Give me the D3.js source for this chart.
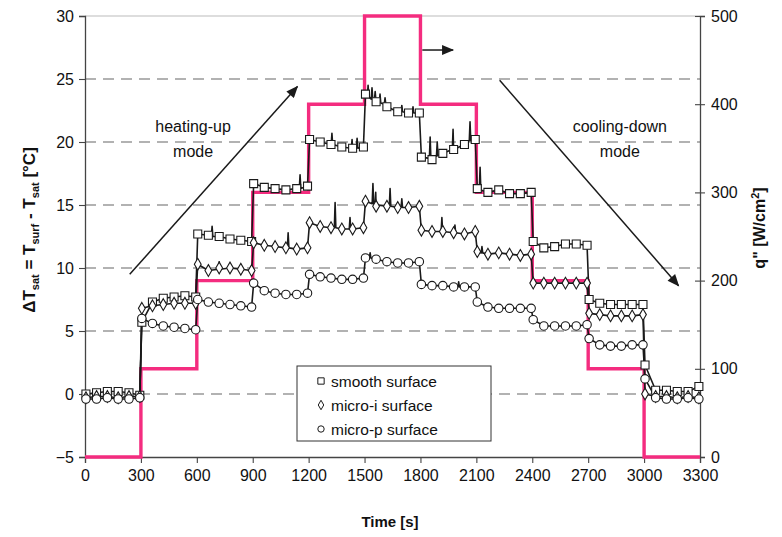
<!DOCTYPE html>
<html>
<head>
<meta charset="utf-8">
<script src="https://cdn.jsdelivr.net/npm/d3@7"></script>
<style>
  html, body { margin: 0; padding: 0; background: #fff; }
  svg { display: block; font-family: "Liberation Sans", Arial, sans-serif; }
</style>
</head>
<body>
<svg id="chart" width="782" height="537"></svg>
<script>
// ---- data -------------------------------------------------------------
// heat-flux step programme: one level per 300 s segment
const segStarts = [0, 300, 600, 900, 1200, 1500, 1800, 2100, 2400, 2700, 3000];
const segEnd = 3300;
const heatFlux = [0, 100, 200, 300, 400, 500, 400, 300, 200, 100, 0]; // W/cm²

// sampling instants inside each segment (s after segment start)
const sampleOffsets = [5, 62, 120, 178, 236, 294];

// wall superheat readings per segment (°C)
const smoothVals = [
  [0.0, 0.1, 0.2, 0.2, 0.1, -0.1],
  [5.7, 7.3, 7.6, 7.7, 7.8, 7.7],
  [12.7, 12.6, 12.5, 12.3, 12.2, 12.1],
  [16.7, 16.4, 16.3, 16.2, 16.3, 16.5],
  [20.2, 20.0, 19.8, 19.6, 19.5, 19.6],
  [23.8, 23.2, 22.8, 22.4, 22.3, 22.3],
  [18.8, 18.6, 19.1, 19.4, 19.8, 20.2],
  [16.3, 16.0, 16.2, 15.9, 15.9, 16.0],
  [12.1, 11.6, 11.7, 11.9, 11.9, 11.8],
  [7.5, 7.2, 7.1, 7.1, 7.1, 7.1],
  [2.3, 0.3, 0.3, 0.2, 0.2, 0.6]
];
const microIVals = [
  [-0.3, -0.2, -0.2, -0.3, -0.2, -0.2],
  [6.8, 7.0, 7.1, 7.2, 7.2, 7.2],
  [10.3, 9.8, 10.0, 10.0, 9.9, 9.8],
  [12.0, 11.8, 11.7, 11.6, 11.5, 11.6],
  [13.6, 13.3, 13.2, 13.1, 13.1, 13.2],
  [15.3, 14.9, 14.9, 14.8, 14.8, 14.9],
  [13.0, 12.9, 12.9, 12.8, 12.7, 12.9],
  [11.3, 11.1, 11.2, 11.1, 11.0, 11.1],
  [8.8, 8.8, 8.8, 8.8, 8.8, 8.8],
  [6.4, 6.3, 6.2, 6.2, 6.2, 6.3],
  [0.0, -0.2, -0.2, -0.3, -0.2, -0.3]
];
const microPVals = [
  [-0.4, -0.4, -0.3, -0.4, -0.4, -0.3],
  [6.0, 5.6, 5.4, 5.3, 5.2, 5.1],
  [7.5, 7.3, 7.2, 7.1, 7.0, 6.9],
  [8.8, 8.2, 8.0, 7.9, 7.9, 8.0],
  [9.5, 9.3, 9.2, 9.1, 9.1, 9.2],
  [10.8, 10.7, 10.5, 10.4, 10.4, 10.5],
  [8.7, 8.6, 8.6, 8.5, 8.5, 8.5],
  [7.3, 6.9, 6.8, 6.8, 6.8, 6.8],
  [5.9, 5.4, 5.4, 5.4, 5.4, 5.5],
  [4.4, 3.9, 3.8, 3.8, 3.9, 3.9],
  [1.2, -0.3, -0.4, -0.4, -0.3, -0.4]
];

// short boiling spikes in the traces: [time s, base °C, peak °C]
const smoothSpikes = [
  [682, 12.5, 13.3], [1154, 16.3, 17.4],
  [1325, 19.8, 20.7], [1433, 19.5, 20.2], [1460, 19.5, 20.3],
  [1519, 23.6, 24.5], [1540, 23.4, 24.3], [1557, 23.3, 24.0], [1583, 23.1, 23.8],
  [1610, 23.0, 23.5], [1700, 22.4, 22.9], [1760, 22.3, 22.8],
  [1852, 18.7, 20.4], [1890, 18.9, 20.0], [1975, 19.4, 21.0], [2066, 20.1, 21.6],
  [2120, 16.2, 18.0]
];
const microISpikes = [
  [720, 9.9, 10.5], [1090, 11.6, 12.8],
  [1342, 13.2, 15.2], [1422, 13.1, 14.0],
  [1545, 15.1, 16.7], [1560, 15.0, 16.0], [1637, 14.9, 16.3], [1700, 14.8, 15.5],
  [1915, 12.9, 14.0], [1985, 12.8, 13.4], [2130, 11.2, 11.7]
];
const microPSpikes = [
  [1530, 10.8, 11.2], [2005, 8.5, 8.9]
];

const xTicks = [0, 300, 600, 900, 1200, 1500, 1800, 2100, 2400, 2700, 3000, 3300];
const yTicks = [-5, 0, 5, 10, 15, 20, 25, 30];
const qTicks = [0, 100, 200, 300, 400, 500];
const gridLevels = [0, 5, 10, 15, 20, 25];

const seriesNames = ["smooth surface", "micro-i surface", "micro-p surface"];

// ---- layout -------------------------------------------------------------
const svg = d3.select("#chart");
const plotL = 85, plotR = 700, plotT = 16, plotB = 457;

const x = d3.scaleLinear().domain([0, 3300]).range([plotL, plotR]);
const y = d3.scaleLinear().domain([-5, 30]).range([plotB, plotT]);
const q = d3.scaleLinear().domain([0, 500]).range([plotB, plotT]);

const pink = "#f42c7f";
const ink = "#1a1a1a";

// top frame line
svg.append("line")
  .attr("x1", plotL).attr("x2", plotR).attr("y1", plotT).attr("y2", plotT)
  .attr("stroke", "#bbb").attr("stroke-width", 1);

// dashed horizontal grid
svg.append("g").selectAll("line").data(gridLevels).join("line")
  .attr("x1", plotL).attr("x2", plotR)
  .attr("y1", d => y(d)).attr("y2", d => y(d))
  .attr("stroke", "#666").attr("stroke-width", 1.1)
  .attr("stroke-dasharray", "11,7");

// axes
const fontSize = 16;
const gLeft = svg.append("g").attr("transform", `translate(${plotL},0)`)
  .call(d3.axisLeft(y).tickValues(yTicks).tickSize(6).tickPadding(5).tickFormat(d3.format("d")));
const gBottom = svg.append("g").attr("transform", `translate(0,${plotB})`)
  .call(d3.axisBottom(x).tickValues(xTicks).tickSize(6).tickPadding(7).tickFormat(d3.format("d")));
const gRight = svg.append("g").attr("transform", `translate(${plotR},0)`)
  .call(d3.axisRight(q).tickValues(qTicks).tickSize(5).tickPadding(6).tickFormat(d3.format("d")));
gRight.selectAll(".tick line").attr("x1", -5);

[gLeft, gBottom, gRight].forEach(g => {
  g.select(".domain").attr("stroke", "#444").attr("stroke-width", 1.3);
  g.selectAll(".tick line").attr("stroke", "#444").attr("stroke-width", 1.1);
  g.selectAll(".tick text").attr("font-size", fontSize)
    .attr("font-family", "'Liberation Sans', Arial, sans-serif").attr("fill", "#111");
});

// axis titles
svg.append("text")
  .attr("transform", "translate(35,230) rotate(-90)")
  .attr("text-anchor", "middle").attr("font-weight", "bold").attr("font-size", 17).attr("fill", "#111")
  .call(t => {
    t.append("tspan").text("ΔT");
    t.append("tspan").attr("font-size", 11).attr("dy", 4).text("sat");
    t.append("tspan").attr("dy", -4).text(" = T");
    t.append("tspan").attr("font-size", 11).attr("dy", 4).text("surf");
    t.append("tspan").attr("dy", -4).text(" - T");
    t.append("tspan").attr("font-size", 11).attr("dy", 4).text("sat");
    t.append("tspan").attr("dy", -4).text(" [°C]");
  });

svg.append("text")
  .attr("transform", "translate(765,228) rotate(-90)")
  .attr("text-anchor", "middle").attr("font-weight", "bold").attr("font-size", 16).attr("fill", "#111")
  .call(t => {
    t.append("tspan").text("q\" [W/cm");
    t.append("tspan").attr("font-size", 11).attr("dy", -6).text("2");
    t.append("tspan").attr("dy", 6).text("]");
  });

svg.append("text")
  .attr("x", 390).attr("y", 527).attr("text-anchor", "middle")
  .attr("font-weight", "bold").attr("font-size", 15).attr("fill", "#111")
  .text("Time [s]");

// ---- heat-flux step line (right axis) ---------------------------------
const qSteps = segStarts.map((s, i) => [s, heatFlux[i]]);
qSteps.push([segEnd, heatFlux[heatFlux.length - 1]]);
svg.append("path")
  .datum(qSteps)
  .attr("fill", "none").attr("stroke", pink).attr("stroke-width", 3.4)
  .attr("d", d3.line().x(d => x(d[0])).y(d => q(d[1])).curve(d3.curveStepAfter));

// ---- surface temperature traces ---------------------------------------
function buildSeries(vals, spikes) {
  const marks = [];
  vals.forEach((seg, i) => seg.forEach((v, j) => marks.push([segStarts[i] + sampleOffsets[j], v])));
  const trace = marks.slice();
  spikes.forEach(([t, b, p]) => { trace.push([t - 4, b], [t, p], [t + 4, b]); });
  trace.sort((a, b) => a[0] - b[0]);
  return { marks, trace };
}

const series = [
  buildSeries(smoothVals, smoothSpikes),
  buildSeries(microIVals, microISpikes),
  buildSeries(microPVals, microPSpikes)
];

const line = d3.line().x(d => x(d[0])).y(d => y(d[1]));

series.forEach(s => {
  svg.append("path").datum(s.trace)
    .attr("fill", "none").attr("stroke", ink).attr("stroke-width", 1.6)
    .attr("stroke-linejoin", "round").attr("d", line);
});

const symSquare = d3.symbol().type(d3.symbolSquare).size(64);
const symDiamond = d3.symbol().type(d3.symbolDiamond).size(40);
const symCircle = d3.symbol().type(d3.symbolCircle).size(56);
const symbols = [symSquare, symDiamond, symCircle];

series.forEach((s, k) => {
  svg.append("g").selectAll("path").data(s.marks).join("path")
    .attr("transform", d => `translate(${x(d[0])},${y(d[1])})`)
    .attr("d", symbols[k]())
    .attr("fill", "#fff").attr("stroke", ink).attr("stroke-width", 1.1);
});

// ---- annotations -------------------------------------------------------
const defs = svg.append("defs");
defs.append("marker").attr("id", "head")
  .attr("viewBox", "0 0 12 10").attr("refX", 11).attr("refY", 5)
  .attr("markerWidth", 13).attr("markerHeight", 10).attr("markerUnits", "userSpaceOnUse")
  .attr("orient", "auto")
  .append("path").attr("d", "M0,0 L12,5 L0,10 Z").attr("fill", ink);

const arrows = [
  { from: [240, 9.5], to: [1140, 24.4] },
  { from: [2225, 24.9], to: [3185, 8.6] },
  { from: [1810, 27.3], to: [1975, 27.3] }
];
svg.append("g").selectAll("line").data(arrows).join("line")
  .attr("x1", d => x(d.from[0])).attr("y1", d => y(d.from[1]))
  .attr("x2", d => x(d.to[0])).attr("y2", d => y(d.to[1]))
  .attr("stroke", ink).attr("stroke-width", 1.5)
  .attr("marker-end", "url(#head)");

const notes = [
  { t: 580, v: 20.8, lines: ["heating-up", "mode"] },
  { t: 2870, v: 20.8, lines: ["cooling-down", "mode"] }
];
notes.forEach(n => {
  const txt = svg.append("text").attr("text-anchor", "middle")
    .attr("font-size", 16).attr("fill", "#111");
  n.lines.forEach((l, i) => txt.append("tspan")
    .attr("x", x(n.t)).attr("y", y(n.v) + i * 25).text(l));
});

// ---- legend --------------------------------------------------------------
const lg = svg.append("g").attr("transform", "translate(297,366)");
lg.append("rect").attr("width", 194).attr("height", 75)
  .attr("fill", "#fff").attr("stroke", "#333").attr("stroke-width", 1);
const legSyms = [
  d3.symbol().type(d3.symbolSquare).size(40),
  d3.symbol().type(d3.symbolDiamond).size(26),
  d3.symbol().type(d3.symbolCircle).size(32)
];
seriesNames.forEach((name, i) => {
  const row = lg.append("g").attr("transform", `translate(0,${15 + i * 24})`);
  row.append("path").attr("transform", "translate(24,0)").attr("d", legSyms[i]())
    .attr("fill", "#fff").attr("stroke", ink).attr("stroke-width", 1);
  row.append("text").attr("x", 34).attr("y", 5.5).attr("font-size", 15.5).attr("fill", "#111").text(name);
});
</script>
</body>
</html>
